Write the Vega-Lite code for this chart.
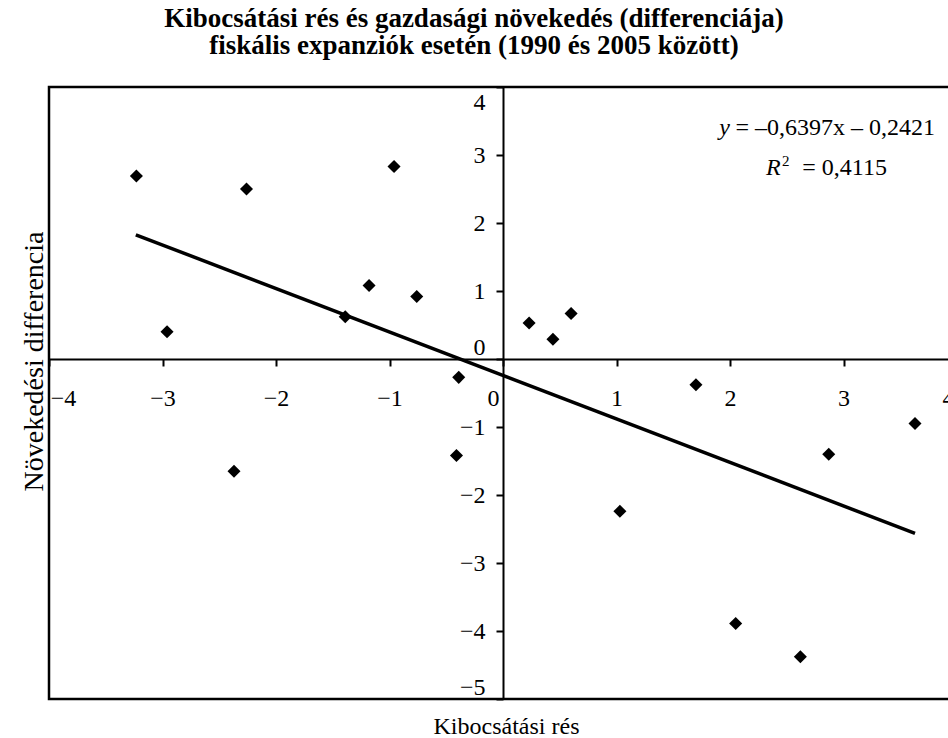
{
  "$schema": "https://vega.github.io/schema/vega-lite/v6.json",
  "width": 908,
  "height": 612,
  "autosize": {"type": "none"},
  "padding": {"left": 49, "top": 87, "right": 0, "bottom": 39},
  "background": "white",
  "config": {
    "font": "Liberation Serif",
    "view": {"stroke": "black", "strokeWidth": 2.5},
    "axis": {"grid": false}
  },
  "title": {
    "text": ["Kibocsátási rés és gazdasági növekedés (differenciája)", "fiskális expanziók esetén (1990 és 2005 között)"],
    "font": "Liberation Serif",
    "fontSize": 27,
    "fontWeight": "bold",
    "color": "black",
    "anchor": "middle",
    "frame": "group",
    "dx": -29,
    "baseline": "bottom",
    "offset": -1,
    "lineHeight": 27
  },
  "datasets": {
    "points": [
      {"x": -3.23, "y": 2.69},
      {"x": -2.96, "y": 0.40},
      {"x": -2.26, "y": 2.50},
      {"x": -2.37, "y": -1.65},
      {"x": -1.39, "y": 0.62},
      {"x": -1.18, "y": 1.08},
      {"x": -0.96, "y": 2.83},
      {"x": -0.76, "y": 0.92},
      {"x": -0.39, "y": -0.27},
      {"x": -0.41, "y": -1.42},
      {"x": 0.23, "y": 0.53},
      {"x": 0.44, "y": 0.29},
      {"x": 0.60, "y": 0.67},
      {"x": 1.03, "y": -2.24},
      {"x": 1.70, "y": -0.38},
      {"x": 2.05, "y": -3.89},
      {"x": 2.62, "y": -4.38},
      {"x": 2.87, "y": -1.40},
      {"x": 3.63, "y": -0.95}
    ],
    "fit": [
      {"x": -3.235, "y": 1.827},
      {"x": 3.63, "y": -2.564}
    ]
  },
  "layer": [
    {
      "data": {"name": "points"},
      "mark": {"type": "point", "shape": "diamond", "filled": true, "color": "black", "size": 170, "opacity": 1},
      "encoding": {
        "x": {
          "field": "x", "type": "quantitative",
          "scale": {"domain": [-4, 4], "nice": false, "zero": false},
          "axis": {
            "title": "Kibocsátási rés",
            "values": [-4, -3, -2, -1, 0, 1, 2, 3, 4],
            "format": "~g",
            "offset": -340,
            "domainColor": "black", "domainWidth": 2,
            "tickColor": "black", "tickWidth": 2, "tickSize": 7,
            "labelFont": "Liberation Serif", "labelFontSize": 24, "labelColor": "black",
            "labelBaseline": "alphabetic", "labelPadding": 39,
            "labelFlush": false, "labelOverlap": false, "labelBound": false,
            "labelOffset": {"condition": [{"test": "datum.value === 0", "value": -10}, {"test": "datum.value === 4", "value": -9}, {"test": "datum.value === -4", "value": 14}], "value": 0},
            "titleFont": "Liberation Serif", "titleFontSize": 24, "titleFontWeight": "normal", "titleColor": "black",
            "titleX": 457, "titleY": 374, "titleBaseline": "alphabetic", "titleAlign": "center"
          }
        },
        "y": {
          "field": "y", "type": "quantitative",
          "scale": {"domain": [-5, 4], "nice": false, "zero": false},
          "axis": {
            "title": "Növekedési differencia",
            "values": [-5, -4, -3, -2, -1, 0, 1, 2, 3, 4],
            "format": "~g",
            "offset": -454,
            "domainColor": "black", "domainWidth": 2,
            "tickColor": "black", "tickWidth": 2, "tickSize": 7,
            "labelFont": "Liberation Serif", "labelFontSize": 24, "labelColor": "black",
            "labelAlign": "right", "labelBaseline": "middle", "labelPadding": 11,
            "labelOverlap": false, "labelBound": false, "labelFlush": false,
            "labelOffset": {"condition": [{"test": "datum.value === 0", "value": -12}, {"test": "datum.value === 4", "value": 15}, {"test": "datum.value === -5", "value": -12}], "value": 0},
            "titleFont": "Liberation Serif", "titleFontSize": 28, "titleFontWeight": "normal", "titleColor": "black",
            "titleX": -461, "titleY": 274, "titleAngle": -90, "titleBaseline": "alphabetic", "titleAlign": "center"
          }
        }
      }
    },
    {
      "data": {"name": "fit"},
      "mark": {"type": "line", "color": "black", "strokeWidth": 3.5},
      "encoding": {
        "x": {"field": "x", "type": "quantitative"},
        "y": {"field": "y", "type": "quantitative"}
      }
    },
    {
      "data": {"values": [{}]},
      "mark": {"type": "text", "text": "y", "font": "Liberation Serif", "fontStyle": "italic", "fontSize": 24, "align": "right", "baseline": "alphabetic", "color": "black"},
      "encoding": {"x": {"datum": 2.0}, "y": {"datum": 3.294}}
    },
    {
      "data": {"values": [{}]},
      "mark": {"type": "text", "text": "= –0,6397x – 0,2421", "font": "Liberation Serif", "fontSize": 24, "align": "right", "baseline": "alphabetic", "color": "black"},
      "encoding": {"x": {"datum": 3.806}, "y": {"datum": 3.294}}
    },
    {
      "data": {"values": [{}]},
      "mark": {"type": "text", "text": "R", "font": "Liberation Serif", "fontStyle": "italic", "fontSize": 24, "align": "left", "baseline": "alphabetic", "color": "black"},
      "encoding": {"x": {"datum": 2.317}, "y": {"datum": 2.706}}
    },
    {
      "data": {"values": [{}]},
      "mark": {"type": "text", "text": "2", "font": "Liberation Serif", "fontSize": 15, "align": "left", "baseline": "alphabetic", "color": "black"},
      "encoding": {"x": {"datum": 2.458}, "y": {"datum": 2.838}}
    },
    {
      "data": {"values": [{}]},
      "mark": {"type": "text", "text": "= 0,4115", "font": "Liberation Serif", "fontSize": 24, "align": "right", "baseline": "alphabetic", "color": "black"},
      "encoding": {"x": {"datum": 3.383}, "y": {"datum": 2.706}}
    }
  ]
}
